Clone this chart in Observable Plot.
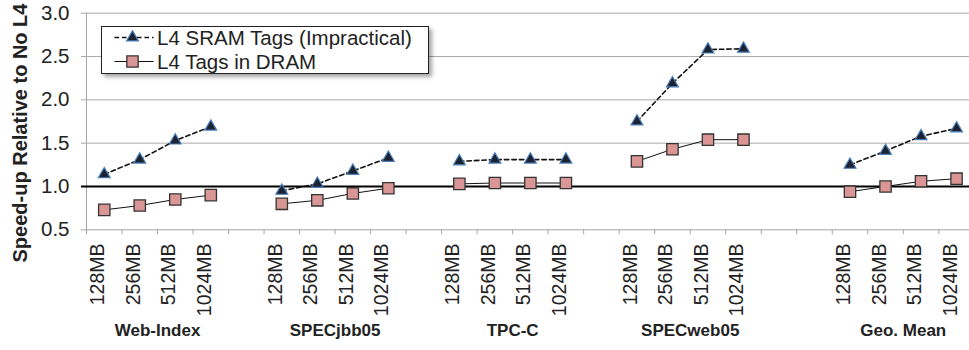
<!DOCTYPE html>
<html><head><meta charset="utf-8">
<script src="https://cdn.jsdelivr.net/npm/d3@7"></script>
<script src="https://cdn.jsdelivr.net/npm/@observablehq/plot@0.6"></script>
<style>
html,body{margin:0;padding:0;background:#fff;overflow:hidden}
#wrap{position:relative;width:969px;height:350px;font-family:Arial,"Liberation Sans",sans-serif;overflow:hidden}
#legend{position:absolute;left:101px;top:26px;width:326px;height:46px;border:1.5px solid #222;background:#fff;box-shadow:3px 3px 4px rgba(0,0,0,0.35)}
#legend svg{display:block;overflow:visible}
</style></head>
<body>
<div id="wrap"><div id="chart"></div><div id="legend"></div></div>
<script>
const groups = ["Web-Index", "SPECjbb05", "TPC-C", "SPECweb05", "Geo. Mean"];
const sizes = ["128MB", "256MB", "512MB", "1024MB"];
const seriesNames = ["L4 SRAM Tags (Impractical)", "L4 Tags in DRAM"];
const sramTags = [
  [1.14, 1.31, 1.53, 1.69],
  [0.95, 1.03, 1.18, 1.33],
  [1.29, 1.31, 1.31, 1.31],
  [1.75, 2.19, 2.58, 2.59],
  [1.25, 1.41, 1.58, 1.67]
];
const dramTags = [
  [0.73, 0.78, 0.85, 0.90],
  [0.80, 0.84, 0.92, 0.98],
  [1.03, 1.04, 1.04, 1.04],
  [1.29, 1.43, 1.54, 1.54],
  [0.94, 1.00, 1.06, 1.09]
];
const yTicks = [0.5, 1.0, 1.5, 2.0, 2.5, 3.0];
const yTitle = "Speed-up Relative to No L4";

// slot layout: 4 sizes per group, 1 empty slot between groups, 2 before the mean
const slotOf = (gi, si) => gi * 5 + si + (gi === groups.length - 1 ? 1 : 0);
const nSlots = slotOf(groups.length - 1, sizes.length - 1) + 1;

const sram = [], dram = [];
groups.forEach((g, gi) => sizes.forEach((s, si) => {
  const x = slotOf(gi, si) + 0.5;
  sram.push({group: g, size: s, x, v: sramTags[gi][si]});
  dram.push({group: g, size: s, x, v: dramTags[gi][si]});
}));
const groupCenters = groups.map((g, gi) => ({g, x: slotOf(gi, 0) + sizes.length / 2}));

const chart = Plot.plot({
  width: 969, height: 350,
  marginLeft: 86, marginTop: 12.7, marginBottom: 120.7, marginRight: 0,
  x: {domain: [0, nSlots], range: [86, 973.8], label: null},
  y: {domain: [0.5, 3.0], label: null},
  style: {fontFamily: "Arial, 'Liberation Sans', sans-serif", color: "#222", background: "white"},
  marks: [
    Plot.gridY(yTicks.filter(t => t > 0.5), {stroke: "#ababab", strokeOpacity: 1}),
    Plot.axisY({ticks: yTicks, tickFormat: d3.format(".1f"), tickSize: 5, tickPadding: 12, fontSize: 20.5, stroke: "#a6a6a6", fill: "#222", label: null}),
    Plot.axisX({ticks: d3.range(0, nSlots + 1), tickSize: 5, tickFormat: () => "", stroke: "#a6a6a6", label: null}),
    Plot.ruleX([0], {stroke: "#a6a6a6"}),
    Plot.ruleY([0.5], {stroke: "#a6a6a6"}),
    Plot.ruleY([1], {stroke: "#000", strokeWidth: 2.2, x1: -5 * nSlots / 887.8, x2: nSlots}),
    Plot.line(sram, {x: "x", y: "v", z: "group", stroke: "#111", strokeWidth: 1.6, strokeDasharray: "4.5,3"}),
    Plot.line(dram, {x: "x", y: "v", z: "group", stroke: "#111", strokeWidth: 1}),
    Plot.dot(sram, {x: "x", y: "v", symbol: "triangle", r: 4.4, fill: "#1c2230", stroke: "#4a7ebb", strokeWidth: 1.2}),
    Plot.dot(dram, {x: "x", y: "v", symbol: "square", r: 6.4, fill: "#d99694", stroke: "#333", strokeWidth: 1.3}),
    Plot.text(sram, {x: "x", text: "size", frameAnchor: "bottom", rotate: -90, textAnchor: "end", dy: 13.7, fontSize: 19.5, fill: "#222"}),
    Plot.text(groupCenters, {x: "x", text: "g", frameAnchor: "bottom", dy: 105.7, fontWeight: "bold", fontSize: 17, fill: "#222"})
  ]
});
document.getElementById("chart").appendChild(chart);

// y-axis title
d3.select(chart).append("text")
  .attr("transform", "translate(20,133) rotate(-90)")
  .attr("text-anchor", "middle").attr("dy", "0.35em")
  .attr("font-family", "Arial, 'Liberation Sans', sans-serif")
  .attr("font-weight", "bold").attr("font-size", 20).attr("fill", "#222")
  .text(yTitle);

// legend
const lg = d3.select("#legend").append("svg").attr("width", 326).attr("height", 46);
const rows = [
  {name: seriesNames[0], y: 10.5, dash: "4.5,3", sw: 1.6, sym: d3.symbolTriangle, size: Math.PI * 4.4 * 4.4, fill: "#1c2230", stroke: "#4a7ebb", ssw: 1.2},
  {name: seriesNames[1], y: 34.5, dash: null, sw: 1, sym: d3.symbolSquare, size: Math.PI * 6.4 * 6.4, fill: "#d99694", stroke: "#333", ssw: 1.3}
];
rows.forEach(r => {
  lg.append("line").attr("x1", 12.5).attr("x2", 51.5).attr("y1", r.y).attr("y2", r.y)
    .attr("stroke", "#111").attr("stroke-width", r.sw).attr("stroke-dasharray", r.dash);
  lg.append("path").attr("d", d3.symbol(r.sym, r.size)()).attr("transform", `translate(30.5,${r.y})`)
    .attr("fill", r.fill).attr("stroke", r.stroke).attr("stroke-width", r.ssw);
  lg.append("text").attr("x", 55).attr("y", r.y).attr("dy", "0.35em").attr("font-size", 20.5)
    .attr("fill", "#222").attr("font-family", "Arial, 'Liberation Sans', sans-serif").text(r.name);
});
</script>
</body></html>
